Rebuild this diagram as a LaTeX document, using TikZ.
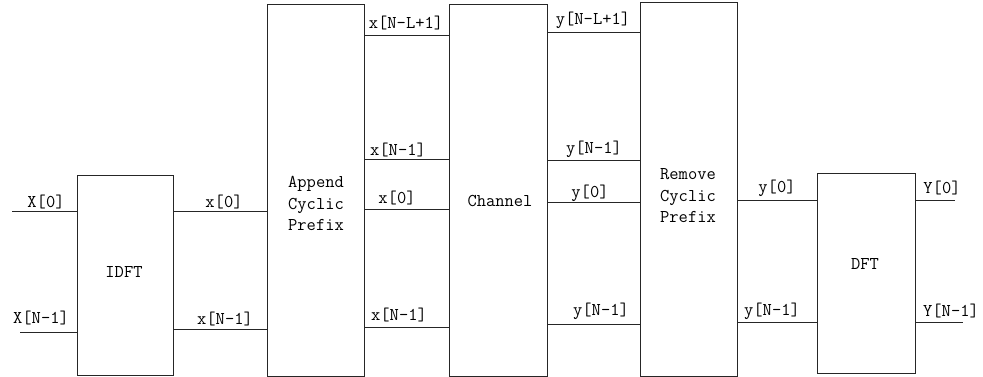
\documentclass[tikz,border=0pt]{standalone}
\begin{document}
\begin{tikzpicture}[x=1pt,y=-1pt,
  blk/.style={draw=black!85,line width=1pt,inner sep=0pt,outer sep=0pt,minimum width=#1},
  lbl/.style={inner sep=0pt,font=\ttfamily\fontsize{18}{21.5}\selectfont,align=center},
  wire/.style={draw=black!85,line width=1pt}]
\useasboundingbox (0,0) rectangle (983,377);
% blocks
\node[blk=96pt,minimum height=199pt] (idft) at (125,275.5) {};
\node[blk=97pt,minimum height=371pt] (app) at (315.5,190.5) {};
\node[blk=98pt,minimum height=371pt] (chan) at (498,190.5) {};
\node[blk=97pt,minimum height=373pt] (rem) at (688.5,189.5) {};
\node[blk=98pt,minimum height=199pt] (dft) at (866,273.5) {};
% block labels
\node[lbl] (tidft) at (124,272) {IDFT};
\node[lbl] (tapp) at (316,203.5) {Append\\Cyclic\\Prefix};
\node[lbl] (tchan) at (500,201) {Channel};
\node[lbl] (trem) at (688,196) {Remove\\Cyclic\\Prefix};
\node[lbl] (tdft) at (865,264) {DFT};
% free ends and levels
\coordinate (in0) at (12,211);
\coordinate (in1) at (20,332);
\coordinate (a0) at (0,211);
\coordinate (a1) at (0,329);
\coordinate (b0) at (0,36);
\coordinate (b1) at (0,160);
\coordinate (b2) at (0,209);
\coordinate (b3) at (0,327);
\coordinate (c0) at (0,33);
\coordinate (c1) at (0,161);
\coordinate (c2) at (0,202);
\coordinate (c3) at (0,324);
\coordinate (d0) at (0,200);
\coordinate (d1) at (0,322);
\coordinate (out0) at (955,200);
\coordinate (out1) at (963,322);
% wires
\draw[wire] (in0) -- (idft.west |- in0);
\draw[wire] (in1) -- (idft.west |- in1);
\draw[wire] (idft.east |- a0) -- (app.west |- a0);
\draw[wire] (idft.east |- a1) -- (app.west |- a1);
\draw[wire] (app.east |- b0) -- (chan.west |- b0);
\draw[wire] (app.east |- b1) -- (chan.west |- b1);
\draw[wire] (app.east |- b2) -- (chan.west |- b2);
\draw[wire] (app.east |- b3) -- (chan.west |- b3);
\draw[wire] (chan.east |- c0) -- (rem.west |- c0);
\draw[wire] (chan.east |- c1) -- (rem.west |- c1);
\draw[wire] (chan.east |- c2) -- (rem.west |- c2);
\draw[wire] (chan.east |- c3) -- (rem.west |- c3);
\draw[wire] (rem.east |- d0) -- (dft.west |- d0);
\draw[wire] (rem.east |- d1) -- (dft.west |- d1);
\draw[wire] (dft.east |- out0) -- (out0);
\draw[wire] (dft.east |- out1) -- (out1);
% wire labels
\node[lbl] (l1) at (46,202) {X[0]};
\node[lbl] (l2) at (41,318) {X[N-1]};
\node[lbl] (l3) at (224,202) {x[0]};
\node[lbl] (l4) at (225,319) {x[N-1]};
\node[lbl] (l5) at (406,23) {x[N-L+1]};
\node[lbl] (l6) at (398,150) {x[N-1]};
\node[lbl] (l7) at (397,198) {x[0]};
\node[lbl] (l8) at (399,315) {x[N-1]};
\node[lbl] (l9) at (593,20) {y[N-L+1]};
\node[lbl] (l10) at (594,149) {y[N-1]};
\node[lbl] (l11) at (590,193) {y[0]};
\node[lbl] (l12) at (601,311) {y[N-1]};
\node[lbl] (l13) at (777,188) {y[0]};
\node[lbl] (l14) at (772,311) {y[N-1]};
\node[lbl] (l15) at (942,188) {Y[0]};
\node[lbl] (l16) at (951,311) {Y[N-1]};
\end{tikzpicture}
\end{document}
